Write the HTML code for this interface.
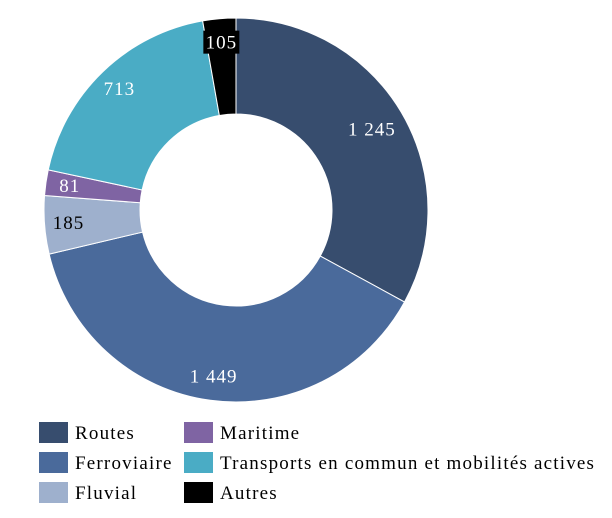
<!DOCTYPE html>
<html><head><meta charset="utf-8"><style>
body{margin:0;background:#fff;width:612px;height:518px;overflow:hidden;font-family:"Liberation Serif","DejaVu Serif",serif}
.sw{position:absolute;width:29px;height:21px}
.lt{position:absolute;font-size:19px;line-height:21px;color:#000;letter-spacing:1.2px;white-space:nowrap}
</style></head><body>
<svg id="chart" width="612" height="518" style="position:absolute;left:0;top:0"></svg>
<div>
<div class="sw" style="left:39px;top:422px;background:#374d6e"></div><div class="lt" style="left:75px;top:423px">Routes</div>
<div class="sw" style="left:39px;top:452px;background:#4a6a9b"></div><div class="lt" style="left:75px;top:453px">Ferroviaire</div>
<div class="sw" style="left:39px;top:482px;background:#9eb0cd"></div><div class="lt" style="left:75px;top:483px">Fluvial</div>
<div class="sw" style="left:184px;top:422px;background:#7f64a3"></div><div class="lt" style="left:220px;top:423px">Maritime</div>
<div class="sw" style="left:184px;top:452px;background:#4aacc5"></div><div class="lt" style="left:220px;top:453px">Transports en commun et mobilités actives</div>
<div class="sw" style="left:184px;top:482px;background:#000"></div><div class="lt" style="left:220px;top:483px">Autres</div>
</div>
<script>
const categories=["Routes","Ferroviaire","Fluvial","Maritime","Transports","Autres"];
const values=[1245,1449,185,81,713,105];
const labels=["1 245","1 449","185","81","713","105"];
const colors=["#374d6e","#4a6a9b","#9eb0cd","#7f64a3","#4aacc5","#000000"];
const textColors=["#fff","#fff","#000","#fff","#fff","#fff"];
const svg=document.getElementById('chart');
const NS="http://www.w3.org/2000/svg";
const cx=236,cy=210,R=192,r=96,LR=168;
const total=values.reduce((a,b)=>a+b,0);
function pt(a,rad){return [cx+rad*Math.sin(a),cy-rad*Math.cos(a)];}
let acc=0;
values.forEach((v,i)=>{
 const a0=acc/total*2*Math.PI; acc+=v; const a1=acc/total*2*Math.PI;
 const large=(a1-a0)>Math.PI?1:0;
 const p0=pt(a0,R),p1=pt(a1,R),q1=pt(a1,r),q0=pt(a0,r);
 const p=document.createElementNS(NS,'path');
 p.setAttribute('d',`M${p0}A${R},${R} 0 ${large} 1 ${p1}L${q1}A${r},${r} 0 ${large} 0 ${q0}Z`);
 p.setAttribute('fill',colors[i]);p.setAttribute('stroke','#fff');p.setAttribute('stroke-width','1');
 
 
 svg.appendChild(p);
 const m=(a0+a1)/2; const lp=pt(m,i===0?158:LR);
 if(i===5){
  const bg=document.createElementNS(NS,'rect');
  bg.setAttribute('x',lp[0]-18);bg.setAttribute('y',lp[1]-12);bg.setAttribute('width',36);bg.setAttribute('height',23);bg.setAttribute('fill','#000');
  
  
  svg.appendChild(bg);
 }
 const t=document.createElementNS(NS,'text');
 t.setAttribute('x',lp[0]);t.setAttribute('y',lp[1]+6);t.setAttribute('text-anchor','middle');
 t.setAttribute('font-size','19');t.setAttribute('fill',textColors[i]);
 t.setAttribute('letter-spacing','1');
 t.setAttribute('font-family','"Liberation Serif","DejaVu Serif",serif');
 t.textContent=labels[i];
 
 
 svg.appendChild(t);
});
</script>
</body></html>
